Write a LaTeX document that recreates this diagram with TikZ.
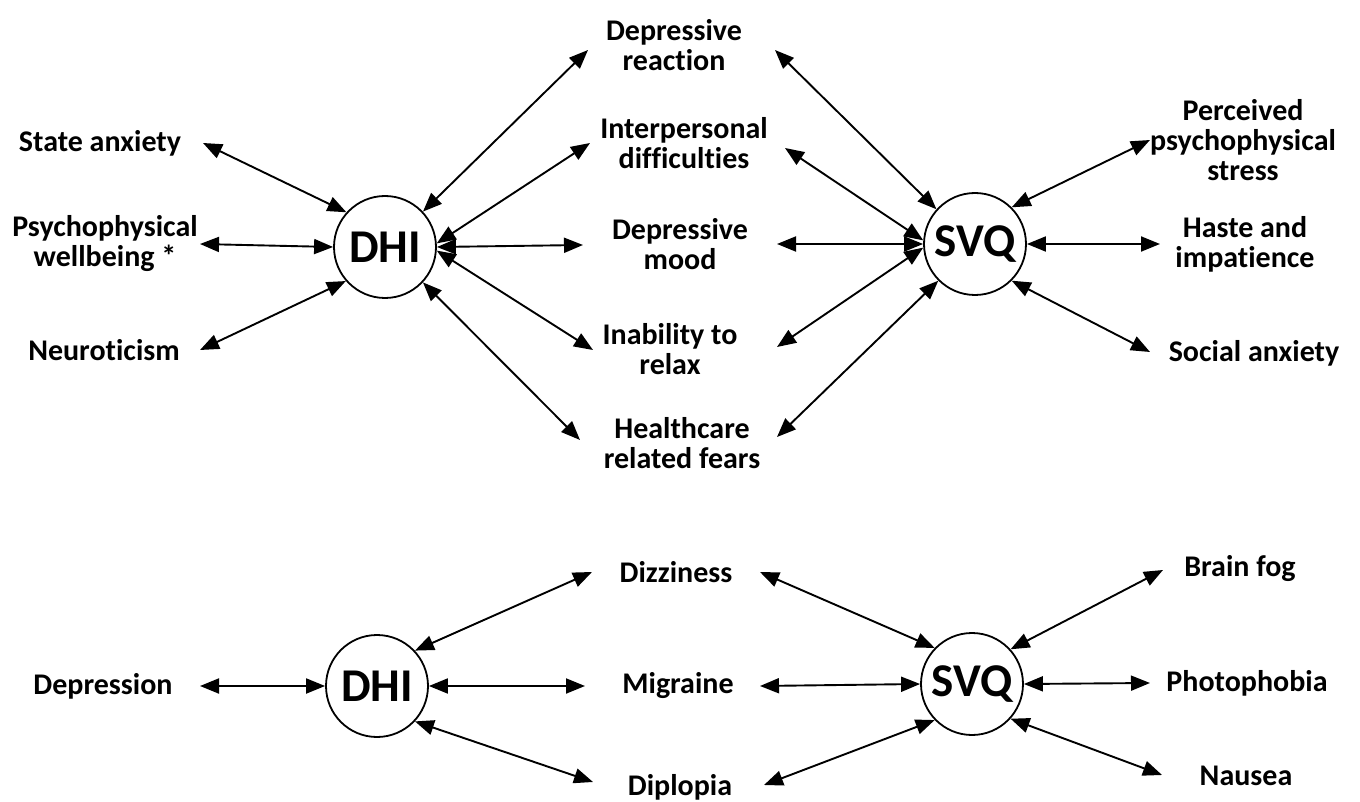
\documentclass[tikz,border=0pt]{standalone}
\usepackage{fontspec}
\setmainfont{Carlito}[Ligatures={NoCommon,NoContextual}]
\usetikzlibrary{arrows.meta}
\begin{document}
\begin{tikzpicture}[x=1pt,y=-1pt,
	hub/.style={draw=black,line width=1.8pt,circle,minimum size=102pt,inner sep=0pt,font=\fontsize{47}{50}\selectfont\bfseries},
	lbl/.style={align=center,inner sep=0pt,font=\fontsize{30}{30}\selectfont\bfseries},
	link/.style={line width=1.9pt,{Triangle[length=19pt,width=15pt]}-{Triangle[length=19pt,width=15pt]}}]
	\useasboundingbox (0,0) rectangle (1360,802);
	% upper diagram
	\node [hub] (dhi) at (385,247) {DHI};
	\node [hub] (svq) at (975,244) {SVQ};
	\node [lbl] (sa) at (100,143) {State anxiety};
	\node [lbl] (pw) at (105,244) {Psychophysical\\wellbeing *};
	\node [lbl] (ne) at (104,350) {Neuroticism};
	\node [lbl] (dr) at (674,45) {Depressive\\reaction};
	\node [lbl] (ip) at (684,143) {Interpersonal\\difficulties};
	\node [lbl] (dm) at (680,244) {Depressive\\mood};
	\node [lbl] (ir) at (670,349) {Inability to\\relax};
	\node [lbl] (hf) at (682,443) {Healthcare\\related fears};
	\node [lbl] (ps) at (1243,140) {Perceived\\psychophysical\\stress};
	\node [lbl] (hi) at (1245,244) {Haste and\\impatience};
	\node [lbl] (so) at (1254,353) {Social anxiety};
	\coordinate (sa-e) at (203,143);
	\coordinate (pw-e) at (200,244);
	\coordinate (ne-e) at (200,350);
	\coordinate (dr-w) at (588,50);
	\coordinate (dr-e) at (775,50);
	\coordinate (ip-w) at (590,143);
	\coordinate (ip-e) at (785,148);
	\coordinate (dm-w) at (583,245);
	\coordinate (dm-e) at (777,244);
	\coordinate (ir-w) at (593,350);
	\coordinate (ir-e) at (777,347);
	\coordinate (hf-w) at (580,440);
	\coordinate (hf-e) at (777,437);
	\coordinate (ps-w) at (1150,140);
	\coordinate (hi-w) at (1160,244);
	\coordinate (so-w) at (1150,352);
	\draw [link] (sa-e) -- (dhi.138);
	\draw [link] (pw-e) -- (dhi.180);
	\draw [link] (ne-e) -- (dhi.221);
	\draw [link] (dhi.43) -- (dr-w);
	\draw [link] (dhi.4) -- (ip-w);
	\draw [link] (dhi.0) -- (dm-w);
	\draw [link] (dhi.-4) -- (ir-w);
	\draw [link] (dhi.-43) -- (hf-w);
	\draw [link] (dr-e) -- (svq.138);
	\draw [link] (ip-e) -- (svq.176);
	\draw [link] (dm-e) -- (svq.180);
	\draw [link] (ir-e) -- (svq.184);
	\draw [link] (hf-e) -- (svq.225);
	\draw [link] (svq.45) -- (ps-w);
	\draw [link] (svq.0) -- (hi-w);
	\draw [link] (svq.-45) -- (so-w);
	% lower diagram
	\node [hub] (dhi2) at (377,686) {DHI};
	\node [hub] (svq2) at (972,684) {SVQ};
	\node [lbl] (de) at (103,686) {Depression};
	\node [lbl] (dz) at (676,572) {Dizziness};
	\node [lbl] (mg) at (678,686) {Migraine};
	\node [lbl] (dp) at (680,787) {Diplopia};
	\node [lbl] (bf) at (1240,569) {Brain fog};
	\node [lbl] (ph) at (1247,683) {Photophobia};
	\node [lbl] (na) at (1246,776) {Nausea};
	\coordinate (de-e) at (200,686);
	\coordinate (dz-w) at (592,572);
	\coordinate (dz-e) at (760,572);
	\coordinate (mg-w) at (585,686);
	\coordinate (mg-e) at (760,686);
	\coordinate (dp-w) at (593,782);
	\coordinate (dp-e) at (764,785);
	\coordinate (bf-w) at (1163,570);
	\coordinate (ph-w) at (1150,683);
	\coordinate (na-w) at (1162,775);
	\draw [link] (de-e) -- (dhi2.180);
	\draw [link] (dhi2.43) -- (dz-w);
	\draw [link] (dhi2.0) -- (mg-w);
	\draw [link] (dhi2.-43) -- (dp-w);
	\draw [link] (dz-e) -- (svq2.136);
	\draw [link] (mg-e) -- (svq2.180);
	\draw [link] (dp-e) -- (svq2.224);
	\draw [link] (svq2.42) -- (bf-w);
	\draw [link] (svq2.0) -- (ph-w);
	\draw [link] (svq2.-42) -- (na-w);
\end{tikzpicture}
\end{document}
